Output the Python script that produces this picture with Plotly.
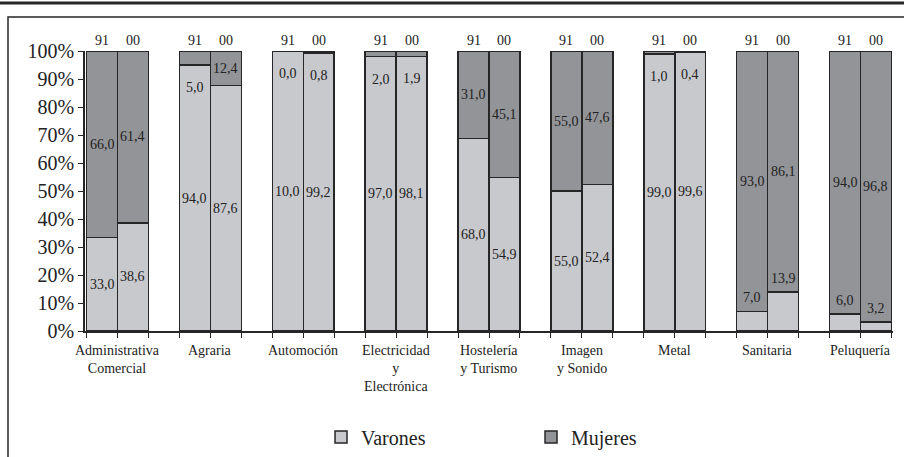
import plotly.graph_objects as go

# --------------------------------------------------
# DATA
# --------------------------------------------------

categories = [
    "Administrativa<br>Comercial",
    "Agraria",
    "Automoción",
    "Electricidad<br>y<br>Electrónica",
    "Hostelería<br>y Turismo",
    "Imagen<br>y Sonido",
    "Metal",
    "Sanitaria",
    "Peluquería",
]
years = ["91", "00"]

varones_91 = [33.0, 94.0, 10.0, 97.0, 68.0, 55.0, 99.0, 7.0, 6.0]
mujeres_91 = [66.0, 5.0, 0.0, 2.0, 31.0, 55.0, 1.0, 93.0, 94.0]
varones_00 = [38.6, 87.6, 99.2, 98.1, 54.9, 52.4, 99.6, 13.9, 3.2]
mujeres_00 = [61.4, 12.4, 0.8, 1.9, 45.1, 47.6, 0.4, 86.1, 96.8]

C_VAR = "#c8c9cd"
C_MUJ = "#939498"
C_LINE = "#262626"
FONT = "Liberation Serif"

# bar positions: two bars per group, one empty slot between groups
xs, var, muj, yr = [], [], [], []
for i in range(len(categories)):
    xs += [3 * i, 3 * i + 1]
    var += [varones_91[i], varones_00[i]]
    muj += [mujeres_91[i], mujeres_00[i]]
    yr += years


def fmt(v):
    return f"{v:.1f}".replace(".", ",")


fig = go.Figure()
fig.add_trace(go.Bar(x=xs, y=var, name="Varones", width=1,
                     marker=dict(color=C_VAR, line=dict(color=C_LINE, width=1.5))))
fig.add_trace(go.Bar(x=xs, y=muj, name="Mujeres", width=1,
                     marker=dict(color=C_MUJ, line=dict(color=C_LINE, width=1.5))))

ann = []
for x, v, m, y in zip(xs, var, muj, yr):
    vp = v / (v + m) * 100
    mp = 100 - vp
    yv = vp / 2 if vp >= 15 else vp + 5
    ym = vp + mp / 2 if mp >= 10 else vp - 8
    for txt, yy in [(fmt(v), yv), (fmt(m), ym)]:
        ann.append(dict(x=x, y=yy, xref="x", yref="y", text=txt, showarrow=False,
                        font=dict(family=FONT, size=14, color="#222")))
    ann.append(dict(x=x, y=100, xref="x", yref="y", text=y, showarrow=False,
                    yanchor="bottom", yshift=1,
                    font=dict(family=FONT, size=14, color="#222")))

for i, c in enumerate(categories):
    ann.append(dict(x=3 * i + 0.5, y=0, xref="x", yref="y", text=c, showarrow=False,
                    yanchor="top", yshift=-10,
                    font=dict(family=FONT, size=14, color="#222")))

fig.update_layout(
    width=904, height=457,
    margin=dict(l=85, r=11, t=51, b=126),
    barmode="stack", barnorm="percent",
    plot_bgcolor="white", paper_bgcolor="white",
    annotations=ann,
    font=dict(family=FONT, color="#222"),
    xaxis=dict(range=[-0.55, 25.55], showgrid=False, zeroline=False,
               showline=True, linecolor=C_LINE, linewidth=2,
               tickmode="array", tickvals=[k + 0.5 for k in range(-1, 26)],
               showticklabels=False, ticks="outside", ticklen=5,
               tickcolor=C_LINE),
    yaxis=dict(range=[0, 100], dtick=10, ticksuffix="%", showgrid=False,
               zeroline=False, showline=True, linecolor=C_LINE, linewidth=1.5,
               ticks="outside", ticklen=5, tickcolor=C_LINE,
               tickfont=dict(family=FONT, size=20, color="#222")),
    legend=dict(orientation="h", x=0.552, xanchor="center",
                yref="container", y=0.044, yanchor="middle",
                entrywidth=165, traceorder="normal",
                font=dict(family=FONT, size=20, color="#222")),
    shapes=[
        dict(type="line", xref="paper", yref="paper", x0=-0.2, x1=1.2,
             y0=1.1714, y1=1.1714, line=dict(color=C_LINE, width=3)),
        dict(type="rect", xref="paper", yref="paper", x0=-0.0953, x1=1.06,
             y0=-0.7, y1=1.1214, line=dict(color=C_LINE, width=1.5)),
    ],
)

fig.write_html("out.html", config={"displayModeBar": False},
               post_script="document.body.style.margin='0';")
